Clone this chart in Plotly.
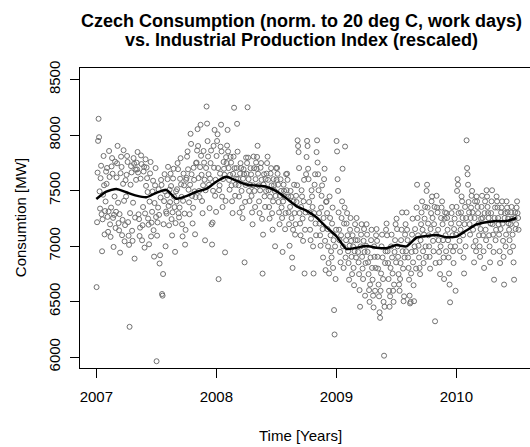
import plotly.graph_objects as go

# Daily work-day consumption [MW], one list per calendar month (2007-01 .. 2010-07)
month_starts = [2007 + k / 12 for k in range(43)]
consumption = [
    [6630, 7215, 7662, 7948, 8147, 7981, 7493, 7338, 7612, 7724, 7287, 6953, 7241, 7463, 7812, 7548, 7105, 7316, 7402, 7671],
    [7561, 7704, 7263, 7128, 7312, 7857, 7623, 7196, 7083, 7347, 7718, 7793, 7652, 7254, 6992, 7281, 7447, 7761, 7163, 7309],
    [7618, 7746, 7903, 7391, 7207, 7142, 7288, 6941, 7657, 7806, 7713, 7098, 7236, 7561, 7864, 7408, 7043, 7189, 7594, 7447],
    [7642, 7812, 7758, 7216, 7093, 7011, 6272, 7297, 7553, 7721, 7664, 7138, 7047, 7391, 7793, 7742, 6887, 7257, 7689, 7597],
    [7752, 7691, 7848, 7663, 7286, 7243, 7091, 7166, 7608, 7817, 7739, 7052, 7188, 7352, 7672, 7714, 6986, 7294, 7782, 7543],
    [7708, 7612, 7487, 7248, 7193, 7016, 7401, 7655, 7758, 7087, 7211, 7309, 7492, 7589, 7143, 6905, 7388, 7547, 7703, 7262],
    [5962, 7094, 7213, 7347, 7512, 7281, 6843, 6917, 7438, 7596, 7551, 6568, 6553, 6748, 7197, 7405, 7648, 7493, 6998, 7311],
    [7293, 7458, 7603, 7714, 7362, 7187, 7508, 7396, 7652, 7541, 7243, 7096, 7304, 7609, 7697, 7446, 7351, 6948, 7207, 7493],
    [7402, 7512, 7748, 7693, 7296, 7258, 7347, 7607, 7792, 7556, 7443, 7196, 7087, 7408, 7653, 7547, 7293, 7013, 7146, 7598],
    [7614, 7806, 7853, 7692, 7508, 7394, 7287, 7553, 8012, 7921, 7647, 7452, 7204, 7346, 7706, 7597, 7493, 7106, 7441, 7748],
    [7753, 7861, 8054, 7902, 7613, 7497, 7441, 7712, 8093, 7814, 7642, 7406, 7296, 7548, 7857, 7752, 7598, 7052, 7503, 7704],
    [8258, 8104, 7946, 7807, 7648, 7553, 7342, 7607, 7748, 7861, 7196, 7014, 7212, 7498, 7903, 7706, 8047, 7453, 7597, 7308],
    [7812, 7947, 8008, 7703, 6702, 7504, 7547, 7653, 7896, 8094, 7853, 7446, 7352, 7604, 7758, 7697, 7642, 6943, 7407, 7801],
    [7748, 7906, 8047, 7853, 7703, 7596, 7508, 7642, 7804, 7752, 7547, 7404, 7297, 7651, 7806, 8247, 7702, 7453, 7553, 7607],
    [7703, 8102, 7851, 7606, 7548, 7446, 7302, 7653, 7747, 7703, 7497, 7348, 7252, 7607, 7693, 7648, 6853, 7398, 7551, 7797],
    [7652, 7748, 8251, 7797, 7603, 7497, 7406, 7553, 7702, 7646, 7452, 7303, 7196, 7548, 7807, 7702, 7497, 7352, 7603, 7753],
    [7697, 7803, 7904, 7652, 7547, 7403, 7297, 7502, 7706, 7748, 7597, 7246, 6752, 7103, 7553, 7647, 7448, 7353, 7602, 7496],
    [7653, 7748, 7806, 7597, 7503, 7352, 7248, 7446, 7653, 7702, 7547, 7296, 7148, 7403, 7603, 7548, 7497, 6998, 7452, 7703],
    [7597, 7704, 7651, 7553, 7397, 7303, 7197, 7453, 7602, 7497, 7348, 7253, 6947, 7402, 7553, 7497, 7446, 7152, 7297, 7648],
    [7503, 7652, 7597, 7446, 7303, 7197, 7003, 7353, 7497, 7447, 7252, 6897, 6803, 7147, 7402, 7553, 7297, 7103, 7197, 7453],
    [7397, 7548, 7953, 7902, 7847, 7703, 7297, 7203, 7097, 7352, 7503, 7447, 7248, 7047, 7403, 7597, 6753, 7147, 7303, 7648],
    [7803, 7948, 7902, 7697, 7603, 7397, 7303, 7147, 7053, 7247, 7503, 7447, 7352, 6997, 6753, 7297, 7553, 7647, 7203, 7097],
    [7847, 7953, 7753, 7647, 7503, 7297, 7203, 7097, 7003, 7347, 7453, 7547, 7153, 6897, 7253, 7603, 7697, 7047, 6783, 7397],
    [7403, 7297, 7153, 6997, 6847, 6753, 7447, 7253, 7097, 6953, 6897, 7203, 7347, 6803, 7053, 6423, 6203, 6997, 6703, 7147],
    [7947, 7853, 7603, 7497, 7303, 7147, 7053, 6947, 6853, 7097, 7253, 7403, 7697, 6997, 6803, 7203, 7347, 7897, 6897, 7053],
    [7203, 7297, 7097, 6953, 6847, 6697, 7003, 7147, 7253, 7047, 6903, 6747, 7097, 6997, 6803, 6647, 6953, 7197, 7053, 6897],
    [7253, 7147, 7053, 6947, 6853, 6747, 6603, 6453, 6997, 7103, 7197, 6903, 6797, 6703, 7047, 7153, 6947, 6553, 6847, 7003],
    [7197, 7103, 6947, 6853, 6747, 6603, 6497, 6653, 6897, 7053, 7147, 6803, 6697, 6553, 6447, 6997, 6903, 6597, 6803, 7097],
    [7153, 7047, 6903, 6797, 6653, 6547, 6403, 6353, 6597, 6753, 6997, 7103, 6897, 6703, 6497, 6012, 6453, 6847, 6953, 7147],
    [7203, 7097, 6953, 6847, 6703, 6597, 6453, 6547, 6803, 6997, 7103, 6897, 6753, 6597, 6497, 6653, 6947, 7053, 7197, 6853],
    [7247, 7153, 6997, 6903, 6747, 6653, 6597, 6703, 6847, 7053, 7147, 7303, 6953, 6797, 6503, 6547, 6897, 7103, 7197, 6953],
    [7303, 7147, 7053, 6897, 6803, 6697, 6553, 6483, 6497, 6753, 6947, 7103, 7247, 6853, 6647, 6503, 6997, 7153, 6953, 6797],
    [7347, 7553, 7253, 7097, 7003, 6897, 6803, 6747, 7053, 7197, 7303, 7403, 7147, 6953, 6847, 7103, 7247, 7353, 6997, 6903],
    [7497, 7553, 7347, 7203, 7097, 6997, 6903, 6797, 7153, 7297, 7403, 7447, 7253, 7047, 6953, 7197, 7353, 6322, 6847, 7103],
    [7453, 7347, 7303, 7147, 7053, 6947, 6853, 6747, 6997, 7253, 7347, 7403, 7197, 7053, 6897, 6703, 7247, 7303, 7097, 6953],
    [7297, 7253, 7147, 7053, 6897, 6753, 6653, 6493, 6997, 7203, 7297, 7353, 7097, 6953, 6847, 7153, 7247, 6997, 6597, 7103],
    [7353, 7497, 7603, 7553, 7297, 7203, 7047, 6953, 7147, 7303, 7447, 7403, 7253, 7097, 6897, 6753, 7197, 7353, 6997, 7253],
    [7953, 7703, 7647, 7553, 7397, 7303, 7197, 7103, 7253, 7347, 7453, 7497, 7303, 7147, 6997, 6853, 7253, 7403, 7047, 6953],
    [7447, 7403, 7353, 7297, 7203, 7097, 6997, 6903, 7153, 7247, 7353, 7453, 7253, 7097, 6953, 6803, 7297, 7403, 7147, 7053],
    [7503, 7447, 7353, 7297, 7253, 7097, 6997, 6853, 7203, 7297, 7403, 7503, 7197, 7103, 6947, 6697, 7253, 7347, 7053, 7147],
    [7447, 7403, 7347, 7253, 7197, 7103, 6953, 6847, 7153, 7303, 7347, 7403, 7203, 7047, 6903, 6653, 7253, 7297, 6997, 7103],
    [7403, 7347, 7303, 7247, 7203, 7147, 7053, 6947, 7197, 7303, 7353, 7247, 7103, 6997, 6853, 6697, 7253, 7303, 7153, 7197],
    [7347, 7403, 7297, 7253, 7147],
]

# Industrial production index, rescaled to MW, sampled at month starts (2007-01 .. 2010-07)
ipi_rescaled = [
    7424, 7490, 7515, 7485, 7455, 7440, 7480, 7505, 7427, 7450, 7490, 7515,
    7580, 7625, 7590, 7555, 7545, 7535, 7495, 7430, 7360, 7320, 7260, 7170,
    7090, 6975, 6985, 7000, 6985, 6980, 7010, 6997, 7075, 7090, 7100, 7080,
    7085, 7140, 7195, 7215, 7225, 7225, 7253,
]

x_ticks = [2007, 2008, 2009, 2010]
y_ticks = [6000, 6500, 7000, 7500, 8000, 8500]

# Spread each month's work days across the month
t_days, y_days = [], []
for k, vals in enumerate(consumption):
    n = 20
    for i, v in enumerate(vals):
        t_days.append(month_starts[k] + (i + 0.5) / n / 12)
        y_days.append(v)

FONT = "Liberation Sans, Arial, Helvetica, sans-serif"

fig = go.Figure()
fig.add_trace(go.Scatter(
    x=t_days, y=y_days, mode="markers",
    marker=dict(symbol="circle-open", size=5, color="#707070", line=dict(width=1)),
    showlegend=False, hoverinfo="skip",
))
fig.add_trace(go.Scatter(
    x=month_starts, y=ipi_rescaled, mode="lines",
    line=dict(color="black", width=2.5, shape="spline", smoothing=0.6),
    showlegend=False,
))

title_lines = [
    "Czech Consumption (norm. to 20 deg C, work days)",
    "vs. Industrial Production Index (rescaled)",
]

fig.update_layout(
    width=530, height=447,
    margin=dict(l=80, r=0, t=68, b=79),
    paper_bgcolor="white", plot_bgcolor="white",
    font=dict(family=FONT, size=15, color="black"),
    xaxis=dict(
        range=[2006.864, 2010.614], tickvals=x_ticks, ticktext=[str(v) for v in x_ticks],
        showgrid=False, zeroline=False, showline=True, mirror=True,
        linecolor="black", linewidth=1, ticks="outside", ticklen=9,
        tickcolor="black", tickwidth=1, ticklabelstandoff=6,
    ),
    yaxis=dict(
        range=[5901, 8605], tickvals=y_ticks, ticktext=[str(v) for v in y_ticks],
        showgrid=False, zeroline=False, showline=True, mirror=False,
        linecolor="black", linewidth=1, ticks="outside", ticklen=9,
        tickcolor="black", tickwidth=1, tickangle=-90, ticklabelstandoff=4,
    ),
    annotations=[
        dict(text="<b>" + title_lines[0] + "</b>", xref="paper", yref="paper",
             x=0.493, y=1.157, xanchor="center", yanchor="middle", showarrow=False,
             font=dict(size=18)),
        dict(text="<b>" + title_lines[1] + "</b>", xref="paper", yref="paper",
             x=0.493, y=1.092, xanchor="center", yanchor="middle", showarrow=False,
             font=dict(size=18)),
        dict(text="Time [Years]", xref="paper", yref="paper", x=0.491, y=-0.224,
             xanchor="center", yanchor="middle", showarrow=False, font=dict(size=15)),
        dict(text="Consumtion [MW]", xref="paper", yref="paper", x=-0.133, y=0.5,
             xanchor="center", yanchor="middle", textangle=-90, showarrow=False,
             font=dict(size=15)),
    ],
)

fig.write_html("out.html")
